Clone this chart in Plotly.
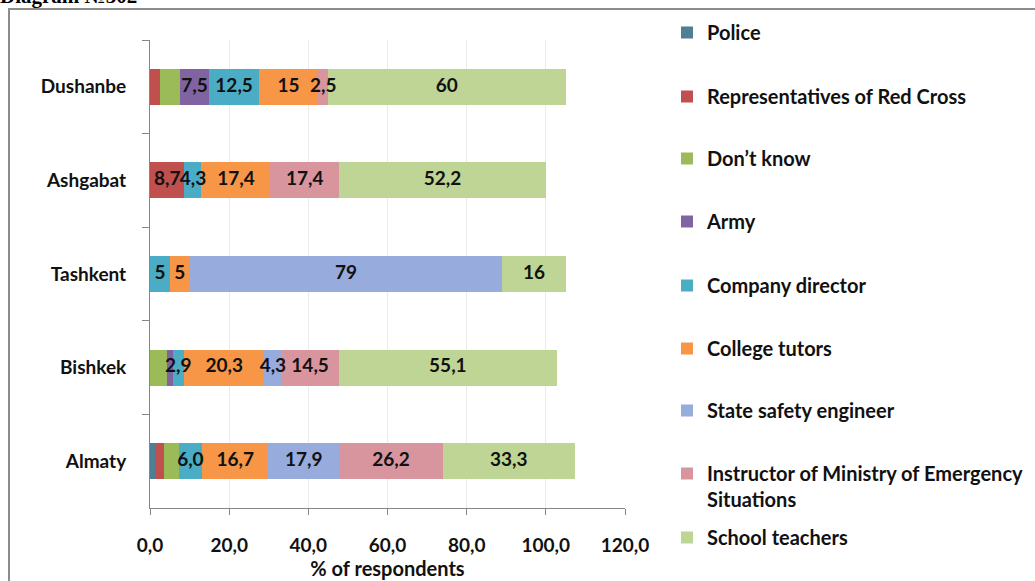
import plotly.graph_objects as go

cities = ["Dushanbe", "Ashgabat", "Tashkent", "Bishkek", "Almaty"]
series = ["Police", "Representatives of Red Cross", "Don’t know", "Army", "Company director",
          "College tutors", "State safety engineer", "Instructor of Ministry of Emergency<br>Situations",
          "School teachers"]
# values per series, ordered like `cities`
police      = [0, 0, 0, 0, 1.2]
red_cross   = [2.5, 8.7, 0, 0, 2.4]
dont_know   = [5, 0, 0, 4.3, 3.6]
army        = [7.5, 0, 0, 1.4, 0]
company     = [12.5, 4.3, 5, 2.9, 6.0]
tutors      = [15, 17.4, 5, 20.3, 16.7]
state_eng   = [0, 0, 79, 4.3, 17.9]
instructor  = [2.5, 17.4, 0, 14.5, 26.2]
school      = [60, 52.2, 16, 55.1, 33.3]
values = [police, red_cross, dont_know, army, company, tutors, state_eng, instructor, school]

# data labels as printed on the chart ("" = no label)
lab_police     = ["", "", "", "", ""]
lab_red_cross  = ["", "8,7", "", "", ""]
lab_dont_know  = ["", "", "", "", ""]
lab_army       = ["7,5", "", "", "", ""]
lab_company    = ["12,5", "4,3", "5", "2,9", "6,0"]
lab_tutors     = ["15", "17,4", "5", "20,3", "16,7"]
lab_state_eng  = ["", "", "79", "4,3", "17,9"]
lab_instructor = ["2,5", "17,4", "", "14,5", "26,2"]
lab_school     = ["60", "52,2", "16", "55,1", "33,3"]
labels = [lab_police, lab_red_cross, lab_dont_know, lab_army, lab_company, lab_tutors,
          lab_state_eng, lab_instructor, lab_school]

colors = ["#4f7f95", "#c0504d", "#9bbb59", "#8064a2", "#4bacc6", "#f79646",
          "#97abdd", "#d9959e", "#bfd595"]

x_ticks = [0, 20, 40, 60, 80, 100, 120]

FONT = "Lato"
# plot area pixels: x 150..625, y 40..508
L, R, T, B, W, H = 150, 625, 40, 508, 1035, 581
pw, ph = R - L, B - T
def px(xp): return (xp - L) / pw
def py(yp): return 1 + (T - yp) / ph

legend_ids = ["legend"] + [f"legend{k}" for k in range(2, len(series) + 1)]
legend_centers = [33, 97, 159, 222, 286, 349, 411, 474, 538]

fig = go.Figure()
for k, (name, vals, col) in enumerate(zip(series, values, colors)):
    fig.add_trace(go.Bar(
        y=cities, x=vals, name=name, orientation="h",
        marker=dict(color=col, line=dict(width=0)),
        legend=legend_ids[k],
    ))

# label overlay at the middle of each segment (computed from cumulative data)
cum = [0.0] * len(cities)
for vals, labs in zip(values, labels):
    xs, ys, ts = [], [], []
    for i, (v, t) in enumerate(zip(vals, labs)):
        if t:
            xs.append(cum[i] + v / 2)
            ys.append(cities[i])
            ts.append(t)
        cum[i] += v
    if xs:
        fig.add_trace(go.Scatter(
            x=xs, y=ys, text=ts, mode="text", showlegend=False, hoverinfo="skip",
            textfont=dict(family=FONT, size=19, color="#111111", weight="bold"),
            cliponaxis=False,
        ))

leg_font = dict(family=FONT, size=20, color="#111111", weight="bold")
legends = {}
for lid, c in zip(legend_ids, legend_centers):
    legends[lid] = dict(x=px(667), y=py(c - 20), xanchor="left", yanchor="top",
                        font=leg_font, bgcolor="rgba(0,0,0,0)", valign="top")

fig.update_layout(
    width=W, height=H,
    margin=dict(l=L, r=W - R, t=T, b=H - B, pad=0, autoexpand=False),
    paper_bgcolor="white", plot_bgcolor="white",
    barmode="stack", bargap=0.615,
    separators=", ",
    font=dict(family=FONT, size=19, color="#111111"),
    showlegend=True,
    xaxis=dict(
        range=[0, 120], tickvals=x_ticks, tickformat=".1f",
        showgrid=True, gridcolor="#ebebeb", gridwidth=1,
        showline=True, linecolor="#868686", linewidth=1,
        ticks="outside", ticklen=6, tickcolor="#868686",
        ticklabelstandoff=14,
        tickfont=dict(family=FONT, size=19, color="#111111", weight="bold"),
        title=dict(text="% of respondents", standoff=0,
                   font=dict(family=FONT, size=20, color="#111111", weight="bold")),
        zeroline=False,
    ),
    yaxis=dict(
        categoryorder="array", categoryarray=cities, autorange="reversed",
        showline=True, linecolor="#868686", linewidth=1,
        ticks="outside", ticklen=7, tickcolor="#868686", tickson="boundaries",
        showgrid=False,
        ticklabelstandoff=19,
        tickfont=dict(family=FONT, size=19, color="#111111", weight="bold"),
    ),
    shapes=[dict(type="rect", xref="paper", yref="paper",
                 x0=px(9), x1=px(1040), y0=py(9), y1=py(590),
                 line=dict(color="#8c8c8c", width=2), fillcolor="rgba(0,0,0,0)", layer="below")],
    annotations=[dict(text="<b>Diagram №302</b>", xref="paper", yref="paper",
                      x=px(-2), y=py(10), xanchor="left", yanchor="bottom", showarrow=False,
                      font=dict(family="Liberation Serif", size=21, color="#000000"))],
)
fig.update_layout(**legends)

fig.write_html("out.html", config={"displayModeBar": False},
               post_script="document.body.style.margin='0px';")
